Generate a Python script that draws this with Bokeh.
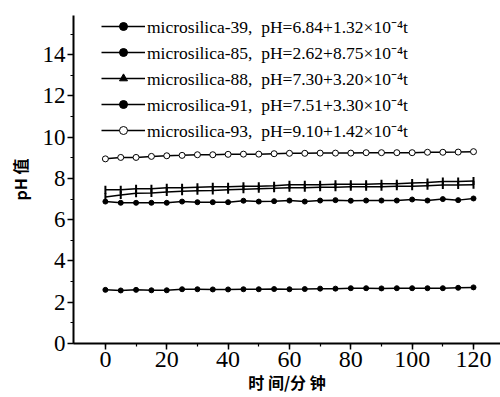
import math
from bokeh.plotting import figure
from bokeh.models import Legend, LegendItem, FixedTicker, Range1d
from bokeh.embed import file_html
from bokeh.resources import INLINE

t = [0, 5, 10, 15, 20, 25, 30, 35, 40, 45, 50, 55, 60, 65, 70, 75, 80, 85, 90, 95, 100, 105, 110, 115, 120]

ph_39 = [6.88, 6.82, 6.82, 6.82, 6.82, 6.88, 6.85, 6.85, 6.85, 6.92, 6.88, 6.90, 6.93, 6.88, 6.93,
         6.95, 6.92, 6.93, 6.93, 6.93, 6.98, 6.93, 7.00, 6.95, 7.03]
ph_85 = [2.60, 2.57, 2.60, 2.58, 2.58, 2.63, 2.63, 2.62, 2.62, 2.63, 2.63, 2.64, 2.63, 2.64, 2.66,
         2.66, 2.68, 2.68, 2.67, 2.68, 2.68, 2.68, 2.68, 2.70, 2.72]
ph_88 = [7.10, 7.20, 7.28, 7.30, 7.35, 7.38, 7.40, 7.42, 7.45, 7.48, 7.50, 7.52, 7.55, 7.55, 7.57,
         7.58, 7.60, 7.60, 7.60, 7.62, 7.62, 7.65, 7.68, 7.68, 7.70]
ph_91 = [7.45, 7.45, 7.50, 7.50, 7.55, 7.55, 7.58, 7.60, 7.60, 7.62, 7.62, 7.65, 7.70, 7.70, 7.70,
         7.72, 7.72, 7.72, 7.75, 7.75, 7.78, 7.80, 7.85, 7.85, 7.88]
ph_93 = [8.95, 9.02, 9.02, 9.07, 9.10, 9.12, 9.15, 9.15, 9.17, 9.18, 9.18, 9.20, 9.22, 9.22, 9.23,
         9.23, 9.23, 9.25, 9.25, 9.25, 9.25, 9.27, 9.27, 9.28, 9.30]

labels = [
    "microsilica-39,  pH=6.84+1.32\u00d710\u207b\u2074t",
    "microsilica-85,  pH=2.62+8.75\u00d710\u207b\u2074t",
    "microsilica-88,  pH=7.30+3.20\u00d710\u207b\u2074t",
    "microsilica-91,  pH=7.51+3.30\u00d710\u207b\u2074t",
    "microsilica-93,  pH=9.10+1.42\u00d710\u207b\u2074t",
]

x_ticks = [0, 20, 40, 60, 80, 100, 120]
y_ticks = [0, 2, 4, 6, 8, 10, 12, 14]

SERIF = "Liberation Serif"

p = figure(width=500, height=397, output_backend="svg", toolbar_location=None,
           x_range=Range1d(-10.4, 128.8), y_range=Range1d(0, 15.9),
           min_border_left=73, min_border_right=0, min_border_top=15, min_border_bottom=54)
p.outline_line_color = None
p.grid.visible = False
p.background_fill_color = "white"

def style_axis(ax, size):
    ax.axis_line_width = 2
    ax.axis_line_color = "black"
    ax.major_tick_line_width = 1.5
    ax.minor_tick_line_width = 1.2
    ax.major_tick_out = 6
    ax.major_tick_in = 0
    ax.minor_tick_out = 3
    ax.minor_tick_in = 0
    ax.major_label_text_font = SERIF
    ax.major_label_text_font_size = size
    ax.major_label_text_color = "black"
    ax.axis_label_text_font = "Noto Sans CJK SC"
    ax.axis_label_text_font_size = "16px"
    ax.axis_label_text_font_style = "bold"
    ax.axis_label_text_color = "black"

p.xaxis.ticker = FixedTicker(ticks=x_ticks, minor_ticks=list(range(0, 130, 10)))
p.yaxis.ticker = FixedTicker(ticks=y_ticks, minor_ticks=list(range(0, 16, 1)))
style_axis(p.xaxis[0], "24px")
style_axis(p.yaxis[0], "23px")
p.xaxis.axis_label = "时 间/分 钟"
p.yaxis.axis_label = "pH 值"
p.xaxis.major_label_standoff = 2
p.xaxis.axis_label_standoff = 0
p.yaxis.major_label_standoff = 2
p.yaxis.axis_label_standoff = 8

items = []

r1 = p.line(t, ph_39, line_color="black", line_width=1.5)
m1 = p.scatter(t, ph_39, marker="circle", size=5, fill_color="black", line_color="black")
items.append(LegendItem(label=labels[0], renderers=[r1, m1]))

r2 = p.line(t, ph_85, line_color="black", line_width=1.5)
m2 = p.scatter(t, ph_85, marker="circle", size=5, fill_color="black", line_color="black")
items.append(LegendItem(label=labels[1], renderers=[r2, m2]))

r3 = p.line(t, ph_88, line_color="black", line_width=1.5)
m3 = p.scatter(t, ph_88, marker="dash", size=8, angle=math.pi / 2, line_color="black", line_width=2)
m3l = p.scatter([-100], [-100], marker="triangle", size=4, fill_color="black", line_color="black")
items.append(LegendItem(label=labels[2], renderers=[r3, m3l]))

r4 = p.line(t, ph_91, line_color="black", line_width=1.5)
m4 = p.scatter(t, ph_91, marker="dash", size=8, angle=math.pi / 2, line_color="black", line_width=2)
m4l = p.scatter([-100], [-100], marker="circle", size=3, fill_color="black", line_color="black")
items.append(LegendItem(label=labels[3], renderers=[r4, m4l]))

r5 = p.line(t, ph_93, line_color="black", line_width=1.5)
m5 = p.scatter(t, ph_93, marker="circle", size=6, fill_color="white", line_color="black", line_width=1)
items.append(LegendItem(label=labels[4], renderers=[r5, m5]))

legend = Legend(items=items, location=(28, 201), orientation="vertical",
                label_text_font=SERIF, label_text_font_size="17.5px", label_text_color="black",
                glyph_width=44, glyph_height=20, label_height=20, spacing=2,
                padding=0, margin=0, label_standoff=2,
                background_fill_alpha=0, border_line_color=None)
p.add_layout(legend, "center")

open("out.html", "w").write(file_html(p, INLINE))
